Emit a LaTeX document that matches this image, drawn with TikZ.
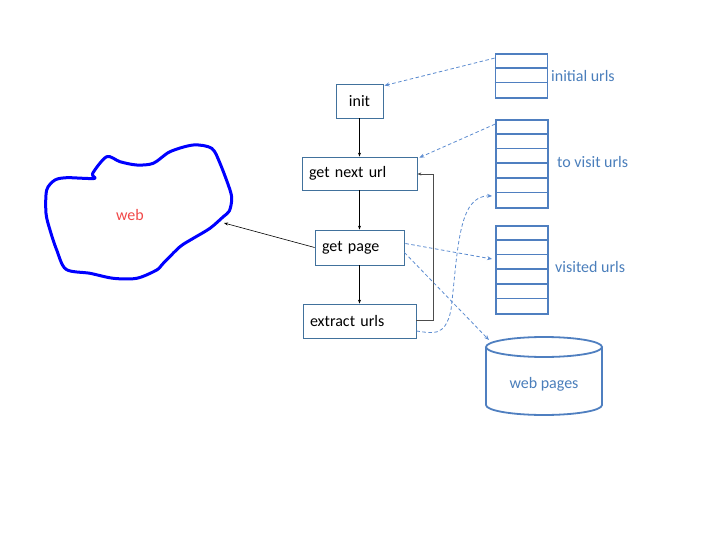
\documentclass[tikz,border=0pt]{standalone}
\usepackage{fontspec}
\setmainfont{Carlito}
\usetikzlibrary{calc,arrows.meta}
\definecolor{boxb}{HTML}{41719C}
\definecolor{stk}{HTML}{4F7FC0}
\definecolor{lbl}{HTML}{4A7EBB}
\definecolor{dsh}{HTML}{5B8BD0}
\definecolor{webred}{HTML}{F04848}
\tikzset{
  proc/.style={draw=boxb,line width=0.8pt,fill=white,inner sep=0pt,font=\fontsize{16}{18}\selectfont},
  stack/.style={draw=stk,line width=1.8pt,inner sep=0pt,minimum width=52pt},
  row/.style={draw=stk,line width=1.8pt},
  lab/.style={text=lbl,font=\fontsize{16}{18}\selectfont,inner sep=0pt},
  flow/.style={draw=black,line width=0.6pt,-{Stealth[length=4pt,width=3pt]}},
  back/.style={draw=black!70,line width=0.8pt,-{Stealth[length=4pt,width=3pt]}},
  dflow/.style={draw=dsh,line width=0.8pt,dash pattern=on 3.5pt off 2.5pt,-{Stealth[length=5pt,width=4pt]}},
}
\begin{document}
\begin{tikzpicture}[x=1pt,y=-1pt]
\useasboundingbox (0,0) rectangle (720,540);
% process boxes
\node[proc,minimum width=47pt,minimum height=34pt] (init) at (359.5,101) {init};
\node[proc,minimum width=115pt,minimum height=33pt,text width=101pt,align=left] (gnu) at (359.5,173.5) {get next url};
\node[proc,minimum width=89pt,minimum height=35pt,text width=75pt,align=left] (gp) at (359.5,247.5) {get page};
\node[proc,minimum width=113pt,minimum height=34pt,text width=99pt,align=left] (eu) at (359.5,321) {extract urls};
% flow arrows
\draw[flow] (init.south) -- (gnu.north);
\draw[flow] (gnu.south) -- (gp.north);
\draw[flow] (gp.south) -- (eu.north);
\coordinate (fb1) at (433,320);
\coordinate (fb2) at (433,174);
\draw[back] (eu.east |- fb1) -- (fb1) -- (fb2) -- (gnu.east |- fb2);
% stacks
\node[stack,minimum height=44pt] (iu) at (521.5,76) {};
\foreach \i in {1,2} \draw[row] ($(iu.north west)+(0,\i*14.67)$) -- ($(iu.north east)+(0,\i*14.67)$);
\node[lab,anchor=west] (iul) at (551,76) {initial urls};
\node[stack,minimum height=88pt] (tv) at (522,164) {};
\foreach \i in {1,...,5} \draw[row] ($(tv.north west)+(0,\i*14.67)$) -- ($(tv.north east)+(0,\i*14.67)$);
\node[lab,anchor=west] (tvl) at (557,162) {to visit urls};
\node[stack,minimum height=88pt] (vu) at (522,270) {};
\foreach \i in {1,...,5} \draw[row] ($(vu.north west)+(0,\i*14.67)$) -- ($(vu.north east)+(0,\i*14.67)$);
\node[lab,anchor=west] (vul) at (555,267) {visited urls};
% cylinder (web pages)
\coordinate (cy) at (544,347);
\draw[stk,line width=1.8pt,fill=white] (486,347) -- (486,405) arc[start angle=180,end angle=0,x radius=58,y radius=10] -- (602,347);
\draw[stk,line width=1.8pt] (cy) ellipse[x radius=58,y radius=10];
\node[lab] (wp) at (544,384) {web pages};
\coordinate (wptop) at (489,340);
% web blob
\draw[blue,line width=3pt,line join=round] plot[smooth cycle,tension=0.5] coordinates {
(92.7,173.3) (106.7,156.7) (120,161.7) (136.7,165) (153.3,163.3) (170,151.7) (193.3,145) (211.7,148.3)
(220,163.3) (230,190) (231.7,200) (229.3,211) (223.3,216.7) (210,228.3) (193.3,238.3) (180,246.7)
(163.3,263.3) (156.7,270) (136.7,278.3) (113.3,278.3) (90,273.3) (66,269.3) (56.7,250) (50,230)
(46,213.3) (46.7,190) (55,180) (66.7,177.7) (83.3,178.3) (95,178.3)};
\node[text=webred,font=\fontsize{16}{18}\selectfont] (web) at (130,215) {web};
\coordinate (webhit) at (224,223);
\draw[flow] (gp.west) -- (webhit);
% dashed arrows
\draw[dflow] ($(iu.north west)+(0,5)$) -- ($(init.north east)+(1,2)$);
\draw[dflow] ($(tv.north west)+(0,5)$) -- ($(gnu.north east)+(2,1)$);
\draw[dflow] ($(gp.east)+(1,-4)$) -- ($(vu.west)+(-3,-11)$);
\draw[dflow] ($(gp.east)+(0,5)$) -- (wptop);
\draw[dflow] ($(eu.east)+(0,10)$) .. controls (432,333) and (445,338) .. (451,310)
  .. controls (458,250) and (458,195) .. ($(tv.west)+(-3,32)$);
\end{tikzpicture}
\end{document}
